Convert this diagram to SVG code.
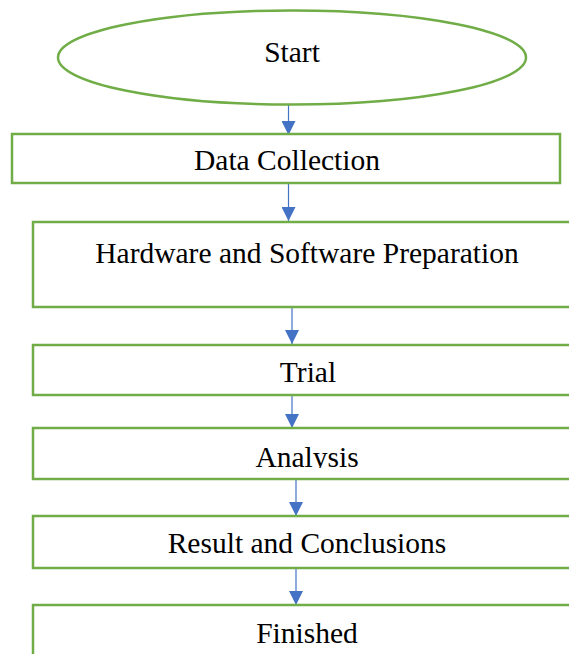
<svg xmlns="http://www.w3.org/2000/svg" width="569" height="654" viewBox="0 0 569 654">
<style>
.node{fill:#fff;stroke:#70AD47;stroke-width:2.5}
.lbl{font-family:"Liberation Serif","Times New Roman",serif;font-size:29.5px;fill:#000;text-anchor:middle}
.conn{stroke:#4472C4;stroke-width:1.2;fill:none}
</style>
<defs>
<marker id="ah" viewBox="0 0 10 10" refX="10" refY="5" markerWidth="14" markerHeight="14" markerUnits="userSpaceOnUse" orient="auto">
<path d="M0,0 L10,5 L0,10 z" fill="#4472C4"/>
</marker>
<clipPath id="clipA"><rect x="0" y="428" width="569" height="40"/></clipPath>
</defs>
<rect width="569" height="654" fill="#fff"/>
<g id="connectors">
<line class="conn" x1="288.5" y1="100" x2="288.5" y2="135" marker-end="url(#ah)"/>
<line class="conn" x1="288.5" y1="184" x2="288.5" y2="221" marker-end="url(#ah)"/>
<line class="conn" x1="292" y1="308" x2="292" y2="344" marker-end="url(#ah)"/>
<line class="conn" x1="292" y1="396" x2="292" y2="428" marker-end="url(#ah)"/>
<line class="conn" x1="296" y1="480" x2="296" y2="516" marker-end="url(#ah)"/>
<line class="conn" x1="296" y1="569" x2="296" y2="605" marker-end="url(#ah)"/>
</g>
<g id="start">
<ellipse class="node" cx="292" cy="57.5" rx="234" ry="47"/>
<text class="lbl" x="292" y="62">Start</text>
</g>
<g id="data-collection">
<rect class="node" x="12" y="134" width="548" height="49"/>
<text class="lbl" x="287" y="170">Data Collection</text>
</g>
<g id="hw-sw-prep">
<rect class="node" x="33" y="222" width="545" height="85"/>
<text class="lbl" x="307" y="263">Hardware and Software Preparation</text>
</g>
<g id="trial">
<rect class="node" x="33" y="345" width="545" height="50"/>
<text class="lbl" x="308" y="382">Trial</text>
</g>
<g id="analysis">
<rect class="node" x="33" y="428" width="545" height="51"/>
<text class="lbl" x="307" y="467" clip-path="url(#clipA)">Analysis</text>
</g>
<g id="result">
<rect class="node" x="33" y="516" width="545" height="52"/>
<text class="lbl" x="307" y="553">Result and Conclusions</text>
</g>
<g id="finished">
<rect class="node" x="33" y="605" width="545" height="60"/>
<text class="lbl" x="307" y="643">Finished</text>
</g>
</svg>
